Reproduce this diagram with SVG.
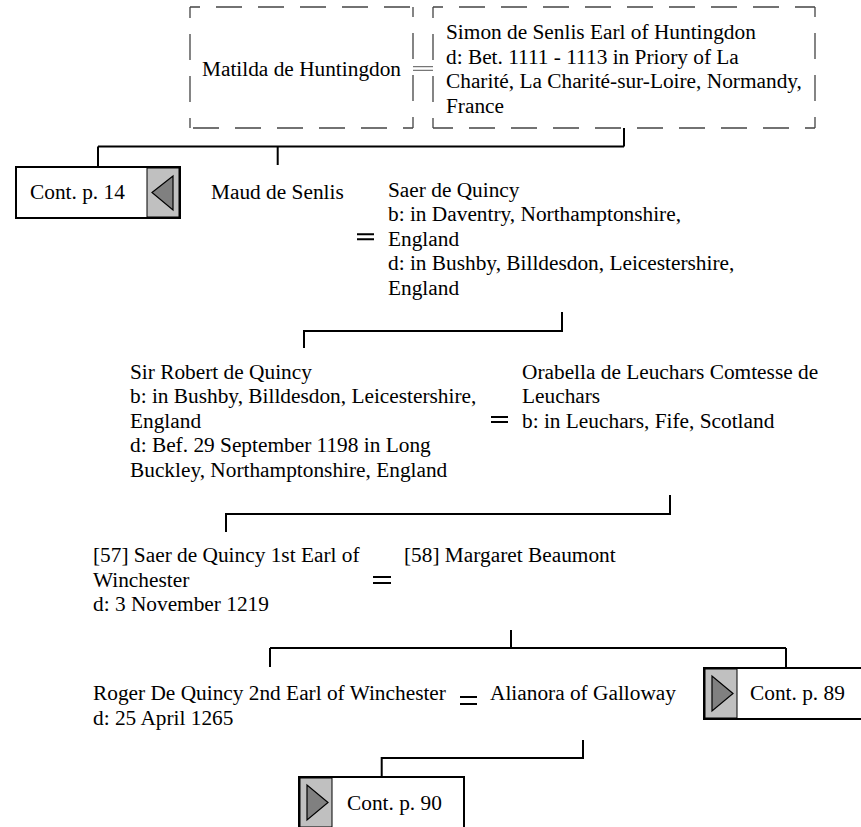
<svg xmlns="http://www.w3.org/2000/svg" width="861" height="827" viewBox="0 0 861 827">
<style>
text{font-family:"Liberation Serif","Times New Roman",serif;font-size:21.33px;fill:#000}
.bg{fill:#fff;stroke:none}
.dash{fill:none;stroke:#444;stroke-width:1.3;stroke-dasharray:26 16;stroke-dashoffset:16}
.ln{fill:none;stroke:#000;stroke-width:2}
.dbl{fill:none;stroke:#555;stroke-width:1}
.box{fill:#fff;stroke:#000;stroke-width:2}
.btn{fill:#c0c0c0;stroke:#000;stroke-width:1}
.tri{fill:#808080;stroke:#000;stroke-width:1.2}
</style>
<rect width="861" height="827" fill="#fff"/>
<g id="connectors">
<path class="dbl" d="M413 66.7H433M413 70.3H433"/>
<path class="ln" d="M624 128V146.5M98 146.5H624M98 146.5V167M277.7 146.5V165"/>
<path class="ln" d="M357 234.3H374M357 239.3H374"/>
<path class="ln" d="M562 312V331H304V348"/>
<path class="ln" d="M491 417H508M491 422H508"/>
<path class="ln" d="M670 495V514H226V532"/>
<path class="ln" d="M373 577H391M373 583H391"/>
<path class="ln" d="M511 630V648M270 648H786M270 648V667M786 648V668"/>
<path class="ln" d="M460 697H477M460 704H477"/>
<path class="ln" d="M583 740V758H381.7V777"/>
</g>
<g id="matilda">
<rect class="bg" x="190" y="7" width="223" height="121"/>
<path class="dash" d="M190 7H413M413 7V128M413 128H190M190 128V7"/>
<text x="202" y="76">Matilda de Huntingdon</text>
</g>
<g id="simon">
<rect class="bg" x="433" y="7" width="382" height="121"/>
<path class="dash" d="M433 7H815M815 7V128M815 128H433M433 128V7"/>
<text x="446" y="39.3">Simon de Senlis Earl of Huntingdon</text>
<text x="446" y="63.8">d: Bet. 1111 - 1113 in Priory of La</text>
<text x="446" y="88.3">Charité, La Charité-sur-Loire, Normandy,</text>
<text x="446" y="112.8">France</text>
</g>
<g id="cont14">
<rect class="box" x="16" y="167" width="164" height="51"/>
<rect class="btn" x="147" y="168" width="32" height="49"/>
<path class="tri" d="M152 192.5L173 176V210Z"/>
<text x="30" y="199.3">Cont. p. 14</text>
</g>
<g id="maud">
<text x="211" y="199.3">Maud de Senlis</text>
</g>
<g id="saer">
<text x="388" y="196.5">Saer de Quincy</text>
<text x="388" y="221">b: in Daventry, Northamptonshire,</text>
<text x="388" y="245.5">England</text>
<text x="388" y="270">d: in Bushby, Billdesdon, Leicestershire,</text>
<text x="388" y="294.5">England</text>
</g>
<g id="robert">
<text x="130" y="378.7">Sir Robert de Quincy</text>
<text x="130" y="403.2">b: in Bushby, Billdesdon, Leicestershire,</text>
<text x="130" y="427.7">England</text>
<text x="130" y="452.2">d: Bef. 29 September 1198 in Long</text>
<text x="130" y="476.7">Buckley, Northamptonshire, England</text>
</g>
<g id="orabella">
<text x="522" y="378.7">Orabella de Leuchars Comtesse de</text>
<text x="522" y="403.2">Leuchars</text>
<text x="522" y="427.7">b: in Leuchars, Fife, Scotland</text>
</g>
<g id="saer57">
<text x="93" y="562">[57] Saer de Quincy 1st Earl of</text>
<text x="93" y="586.5">Winchester</text>
<text x="93" y="611">d: 3 November 1219</text>
</g>
<g id="margaret58">
<text x="404" y="562">[58] Margaret Beaumont</text>
</g>
<g id="roger">
<text x="93" y="700">Roger De Quincy 2nd Earl of Winchester</text>
<text x="93" y="724.5">d: 25 April 1265</text>
</g>
<g id="alianora">
<text x="490" y="700">Alianora of Galloway</text>
</g>
<g id="cont89">
<rect class="box" x="704" y="668" width="164" height="51"/>
<rect class="btn" x="705" y="669" width="32" height="49"/>
<path class="tri" d="M733 693.5L712 676V711Z"/>
<text x="750" y="700">Cont. p. 89</text>
</g>
<g id="cont90">
<rect class="box" x="299" y="777" width="165" height="51"/>
<rect class="btn" x="300" y="778" width="32" height="49"/>
<path class="tri" d="M328 802.5L307 785V820Z"/>
<text x="347" y="810">Cont. p. 90</text>
</g>
</svg>
